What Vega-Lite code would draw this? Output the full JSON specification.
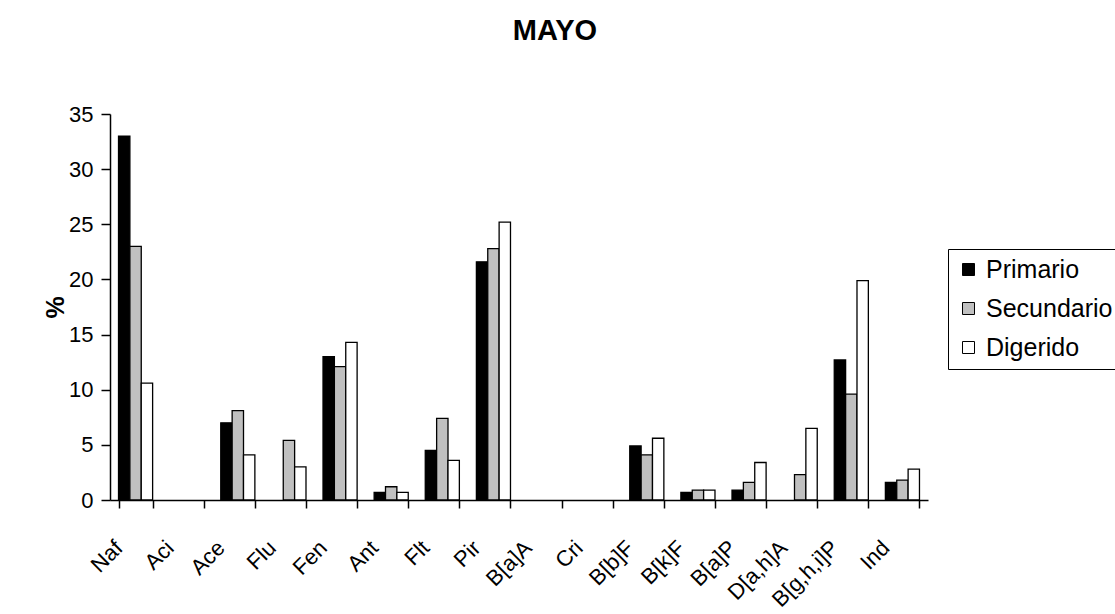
{
  "$schema": "https://vega.github.io/schema/vega-lite/v6.json",
  "width": 818,
  "height": 386,
  "autosize": {"type": "none"},
  "padding": {"left": 110, "top": 114, "right": 187, "bottom": 114},
  "background": "white",
  "config": {
    "font": "Liberation Sans",
    "view": {"stroke": null},
    "axis": {"grid": false, "domainColor": "black", "tickColor": "black", "labelColor": "black", "titleColor": "black", "labelFont": "Liberation Sans", "domainWidth": 1.5, "tickWidth": 1.5}
  },
  "title": {
    "text": "MAYO",
    "font": "Liberation Sans",
    "fontSize": 29,
    "fontWeight": "bold",
    "color": "black",
    "anchor": "middle",
    "frame": "group",
    "offset": 57,
    "dx": 36
  },
  "data": {
    "values": [
      {"compuesto": "Naf", "serie": "Primario", "valor": 33.0},
      {"compuesto": "Naf", "serie": "Secundario", "valor": 23.0},
      {"compuesto": "Naf", "serie": "Digerido", "valor": 10.6},
      {"compuesto": "Aci", "serie": "Primario", "valor": 0},
      {"compuesto": "Aci", "serie": "Secundario", "valor": 0},
      {"compuesto": "Aci", "serie": "Digerido", "valor": 0},
      {"compuesto": "Ace", "serie": "Primario", "valor": 7.0},
      {"compuesto": "Ace", "serie": "Secundario", "valor": 8.1},
      {"compuesto": "Ace", "serie": "Digerido", "valor": 4.1},
      {"compuesto": "Flu", "serie": "Primario", "valor": 0},
      {"compuesto": "Flu", "serie": "Secundario", "valor": 5.4},
      {"compuesto": "Flu", "serie": "Digerido", "valor": 3.0},
      {"compuesto": "Fen", "serie": "Primario", "valor": 13.0},
      {"compuesto": "Fen", "serie": "Secundario", "valor": 12.1},
      {"compuesto": "Fen", "serie": "Digerido", "valor": 14.3},
      {"compuesto": "Ant", "serie": "Primario", "valor": 0.7},
      {"compuesto": "Ant", "serie": "Secundario", "valor": 1.2},
      {"compuesto": "Ant", "serie": "Digerido", "valor": 0.7},
      {"compuesto": "Flt", "serie": "Primario", "valor": 4.5},
      {"compuesto": "Flt", "serie": "Secundario", "valor": 7.4},
      {"compuesto": "Flt", "serie": "Digerido", "valor": 3.6},
      {"compuesto": "Pir", "serie": "Primario", "valor": 21.6},
      {"compuesto": "Pir", "serie": "Secundario", "valor": 22.8},
      {"compuesto": "Pir", "serie": "Digerido", "valor": 25.2},
      {"compuesto": "B[a]A", "serie": "Primario", "valor": 0},
      {"compuesto": "B[a]A", "serie": "Secundario", "valor": 0},
      {"compuesto": "B[a]A", "serie": "Digerido", "valor": 0},
      {"compuesto": "Cri", "serie": "Primario", "valor": 0},
      {"compuesto": "Cri", "serie": "Secundario", "valor": 0},
      {"compuesto": "Cri", "serie": "Digerido", "valor": 0},
      {"compuesto": "B[b]F", "serie": "Primario", "valor": 4.9},
      {"compuesto": "B[b]F", "serie": "Secundario", "valor": 4.1},
      {"compuesto": "B[b]F", "serie": "Digerido", "valor": 5.6},
      {"compuesto": "B[k]F", "serie": "Primario", "valor": 0.7},
      {"compuesto": "B[k]F", "serie": "Secundario", "valor": 0.9},
      {"compuesto": "B[k]F", "serie": "Digerido", "valor": 0.9},
      {"compuesto": "B[a]P", "serie": "Primario", "valor": 0.9},
      {"compuesto": "B[a]P", "serie": "Secundario", "valor": 1.6},
      {"compuesto": "B[a]P", "serie": "Digerido", "valor": 3.4},
      {"compuesto": "D[a,h]A", "serie": "Primario", "valor": 0},
      {"compuesto": "D[a,h]A", "serie": "Secundario", "valor": 2.3},
      {"compuesto": "D[a,h]A", "serie": "Digerido", "valor": 6.5},
      {"compuesto": "B[g,h,i]P", "serie": "Primario", "valor": 12.7},
      {"compuesto": "B[g,h,i]P", "serie": "Secundario", "valor": 9.6},
      {"compuesto": "B[g,h,i]P", "serie": "Digerido", "valor": 19.9},
      {"compuesto": "Ind", "serie": "Primario", "valor": 1.6},
      {"compuesto": "Ind", "serie": "Secundario", "valor": 1.8},
      {"compuesto": "Ind", "serie": "Digerido", "valor": 2.8}
    ]
  },
  "transform": [{"filter": "datum.valor > 0"}],
  "mark": {"type": "bar", "stroke": "black", "strokeWidth": 1.3},
  "encoding": {
    "x": {
      "field": "compuesto",
      "type": "nominal",
      "sort": null,
      "scale": {
        "domain": ["Naf", "Aci", "Ace", "Flu", "Fen", "Ant", "Flt", "Pir", "B[a]A", "Cri", "B[b]F", "B[k]F", "B[a]P", "D[a,h]A", "B[g,h,i]P", "Ind"],
        "paddingInner": 0.333,
        "paddingOuter": 0.1667
      },
      "axis": {
        "title": null,
        "tickBand": "extent",
        "tickSize": 8,
        "labelAngle": -45,
        "labelAlign": "right",
        "labelBaseline": "middle",
        "labelFontSize": 22,
        "labelPadding": 36,
        "labelOffset": -17
      }
    },
    "xOffset": {
      "field": "serie",
      "type": "nominal",
      "sort": ["Primario", "Secundario", "Digerido"],
      "scale": {"domain": ["Primario", "Secundario", "Digerido"], "paddingInner": 0, "paddingOuter": 0}
    },
    "y": {
      "field": "valor",
      "type": "quantitative",
      "scale": {"domain": [0, 35], "nice": false},
      "axis": {
        "title": "%",
        "titleFontSize": 25,
        "titleFontWeight": "bold",
        "titleAngle": -90,
        "titleX": -55,
        "titleY": 193,
        "titleAlign": "center",
        "titleBaseline": "middle",
        "values": [0, 5, 10, 15, 20, 25, 30, 35],
        "tickSize": 9,
        "labelFontSize": 22,
        "labelPadding": 8
      }
    },
    "color": {
      "field": "serie",
      "type": "nominal",
      "sort": ["Primario", "Secundario", "Digerido"],
      "scale": {"domain": ["Primario", "Secundario", "Digerido"], "range": ["#000000", "#c0c0c0", "#ffffff"]},
      "legend": {
        "title": null,
        "orient": "none",
        "legendX": 838,
        "legendY": 135,
        "strokeColor": "black",
        "fillColor": "white",
        "padding": 8,
        "symbolType": "square",
        "symbolSize": 144,
        "symbolStrokeColor": "black",
        "symbolStrokeWidth": 1,
        "symbolOpacity": 1,
        "labelFontSize": 25,
        "labelColor": "black",
        "labelOffset": 5,
        "rowPadding": 13
      }
    }
  }
}
